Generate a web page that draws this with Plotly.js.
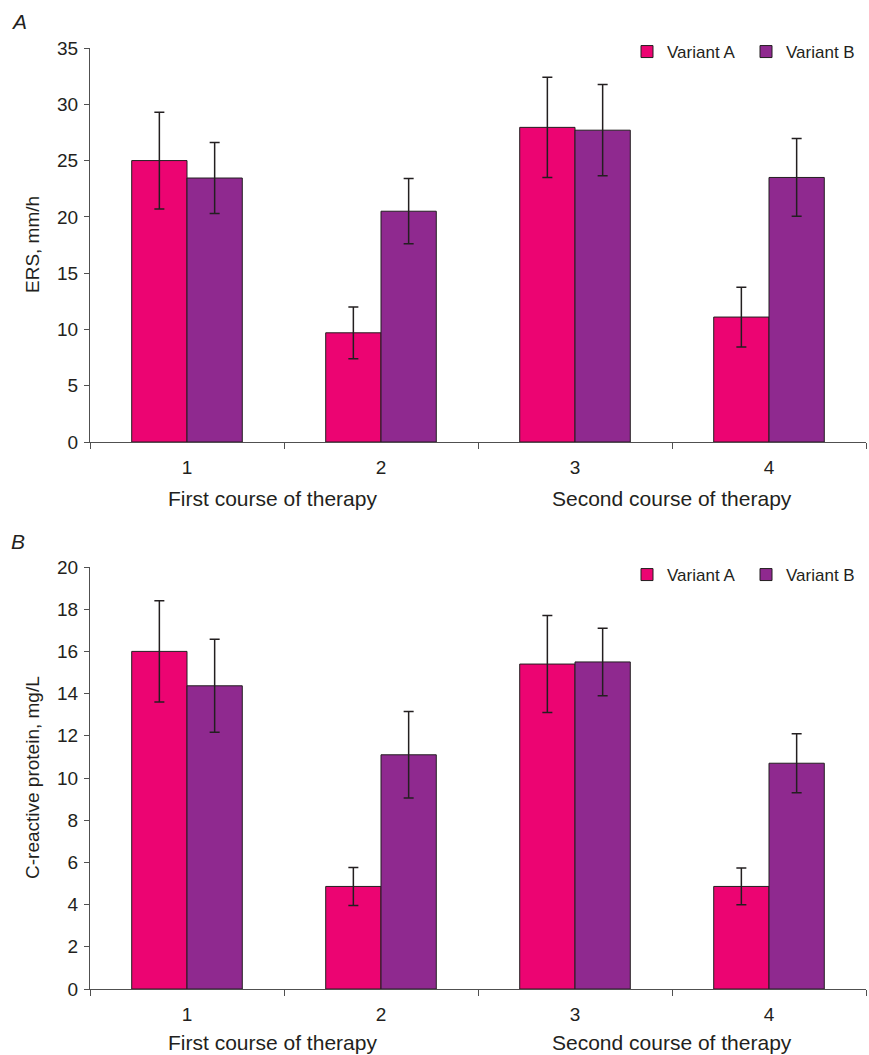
<!DOCTYPE html>
<html>
<head>
<meta charset="utf-8">
<script src="https://cdn.plot.ly/plotly-3.0.1.min.js"></script>
<style>html,body{margin:0;padding:0;background:#fff;}#chart{width:869px;height:1055px;}</style>
</head>
<body>
<div id="chart"></div>
<script>
// ---- data ----
var categories = ["1", "2", "3", "4"];
var groupLabels = ["First course of therapy", "Second course of therapy"];
var seriesNames = ["Variant A", "Variant B"];
var yTitles = ["ERS, mm/h", "C-reactive protein, mg/L"];

// Panel A: ERS, mm/h
var ersA = [25.0, 9.7, 27.95, 11.1];
var ersAErr = [4.3, 2.3, 4.45, 2.65];
var ersB = [23.45, 20.5, 27.7, 23.5];
var ersBErr = [3.15, 2.9, 4.05, 3.45];

// Panel B: C-reactive protein, mg/L
var crpA = [16.0, 4.86, 15.4, 4.86];
var crpAErr = [2.4, 0.9, 2.3, 0.87];
var crpB = [14.37, 11.1, 15.5, 10.7];
var crpBErr = [2.2, 2.05, 1.6, 1.4];

// ---- styling ----
var colA = "#EC0472";
var colB = "#8F298F";
var ink = "#231f20";
var axisCol = "#505050";
var font = "Liberation Sans, Arial, sans-serif";

function barTrace(y, err, name, color, xa, ya, leg) {
  return {
    type: "bar", x: categories, y: y, name: name,
    xaxis: xa, yaxis: ya, legend: leg,
    marker: {color: color, line: {color: ink, width: 1}},
    error_y: {type: "data", array: err, visible: true, color: ink, thickness: 1.5, width: 5},
    hoverinfo: "skip"
  };
}

var data = [
  barTrace(ersA, ersAErr, seriesNames[0], colA, "x", "y", "legend"),
  barTrace(ersB, ersBErr, seriesNames[1], colB, "x", "y", "legend"),
  barTrace(crpA, crpAErr, seriesNames[0], colA, "x2", "y2", "legend2"),
  barTrace(crpB, crpBErr, seriesNames[1], colB, "x2", "y2", "legend2")
];

var H = 1055, W = 869;
function py(px) { return 1 - px / H; }

function xaxisDef(domY) {
  return {
    type: "category", domain: [90 / W, 866 / W], anchor: domY,
    range: [-0.5, 3.5], tickson: "boundaries", ticks: "outside", ticklen: 6,
    tickcolor: axisCol, showline: true, linecolor: axisCol, linewidth: 1,
    showgrid: false, zeroline: false, fixedrange: true, ticklabelstandoff: 8,
    tickfont: {family: font, size: 19, color: ink}
  };
}
function yaxisDef(domain, range, dtick, anchor) {
  return {
    domain: domain, anchor: anchor, range: range, dtick: dtick,
    ticks: "outside", ticklen: 5, tickcolor: axisCol,
    showline: true, linecolor: axisCol, linewidth: 1,
    showgrid: false, zeroline: false, fixedrange: true, ticklabelstandoff: 2,
    tickfont: {family: font, size: 19, color: ink}
  };
}

var topDom = [py(442), py(48)];
var botDom = [py(989), py(567)];

var legendStyle = function (yTop) {
  return {orientation: "h", x: 627 / W, y: py(yTop), xanchor: "left", yanchor: "top",
          font: {family: font, size: 17, color: ink}, bgcolor: "rgba(0,0,0,0)",
          itemwidth: 30, entrywidth: 74, entrywidthmode: "pixels"};
};

var layout = {
  width: W, height: H,
  margin: {l: 0, r: 0, t: 0, b: 0},
  paper_bgcolor: "#fff", plot_bgcolor: "#fff",
  barmode: "group", bargap: 0.43, bargroupgap: 0,
  font: {family: font, color: ink},
  xaxis: xaxisDef("y"),
  yaxis: yaxisDef(topDom, [0, 35], 5, "x"),
  xaxis2: xaxisDef("y2"),
  yaxis2: yaxisDef(botDom, [0, 20], 2, "x2"),
  legend: legendStyle(34),
  legend2: legendStyle(557),
  annotations: [
    {text: "<i>A</i>", xref: "paper", yref: "paper", x: 9 / W, y: py(22), xanchor: "left", yanchor: "middle",
     showarrow: false, font: {family: font, size: 21, color: ink}},
    {text: "<i>B</i>", xref: "paper", yref: "paper", x: 9 / W, y: py(541), xanchor: "left", yanchor: "middle",
     showarrow: false, font: {family: font, size: 21, color: ink}},
    {text: yTitles[0], xref: "paper", yref: "paper", x: 32 / W, y: (topDom[0] + topDom[1]) / 2,
     xanchor: "center", yanchor: "middle", textangle: -90,
     showarrow: false, font: {family: font, size: 19, color: ink}},
    {text: yTitles[1], xref: "paper", yref: "paper", x: 32 / W, y: (botDom[0] + botDom[1]) / 2,
     xanchor: "center", yanchor: "middle", textangle: -90,
     showarrow: false, font: {family: font, size: 19, color: ink}},
    {text: groupLabels[0], xref: "x", yref: "paper", x: 0.44, y: py(498), yanchor: "middle",
     showarrow: false, font: {family: font, size: 21, color: ink}},
    {text: groupLabels[1], xref: "x", yref: "paper", x: 2.5, y: py(498), yanchor: "middle",
     showarrow: false, font: {family: font, size: 21, color: ink}},
    {text: groupLabels[0], xref: "x2", yref: "paper", x: 0.44, y: py(1042), yanchor: "middle",
     showarrow: false, font: {family: font, size: 21, color: ink}},
    {text: groupLabels[1], xref: "x2", yref: "paper", x: 2.5, y: py(1042), yanchor: "middle",
     showarrow: false, font: {family: font, size: 21, color: ink}}
  ]
};

Plotly.newPlot("chart", data, layout, {displayModeBar: false, staticPlot: true});
</script>
</body>
</html>
